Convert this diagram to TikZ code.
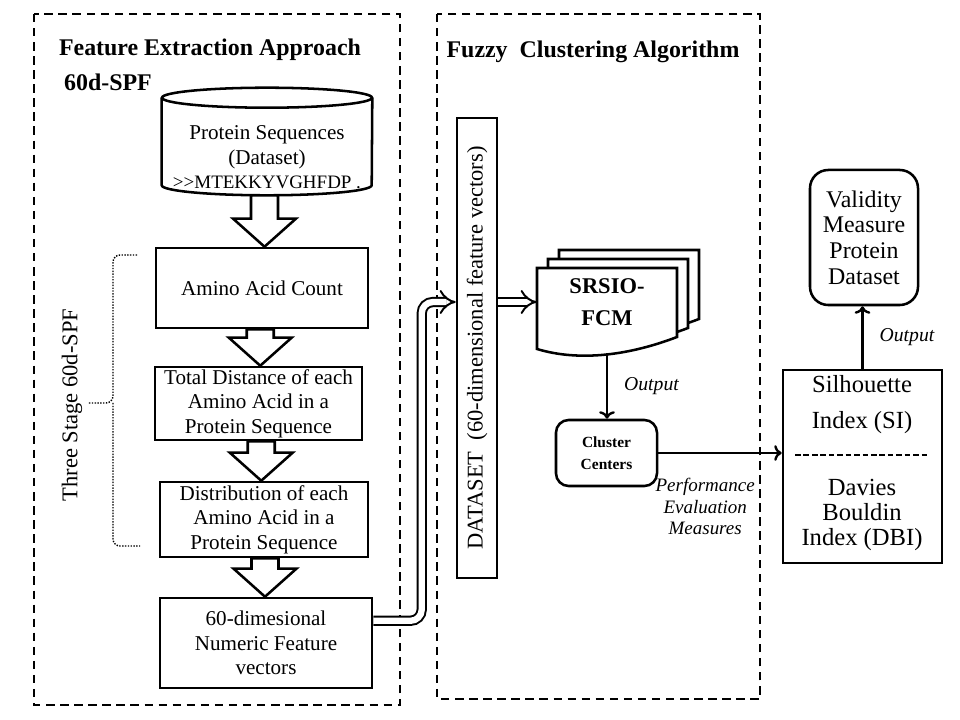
\documentclass[tikz,border=0pt]{standalone}
\usepackage{fontspec}
\setmainfont{Liberation Serif}
\usetikzlibrary{arrows.meta,calc,positioning}
\newcommand{\pxu}{0.7113pt}

\begin{document}
\begin{tikzpicture}[x=0.025cm,y=-0.025cm,
    box/.style={draw,line width=1.8pt,align=center,inner sep=1pt,font=\fontsize{15}{17.5}\selectfont},
    rbox/.style={box,rounded corners=9pt},
    zone/.style={line width=1pt,dash pattern=on 6pt off 4pt},
    head/.style={font=\fontsize{17}{20}\selectfont\bfseries},
    fat/.style={draw,fill=white,line width=1.8pt},
    arr/.style={->,line width=1.7pt},
    dbl/.style={double,double distance=4.5pt,line width=1.4pt,-{Implies}},
    lbl/.style={font=\fontsize{14}{16}\selectfont\itshape}]
  \useasboundingbox (0,0) rectangle (960,720);

  % the two dashed frames
  \draw[zone] (34,14) rectangle (400,705);
  \draw[zone] (437,14) rectangle (760,699);
  \node[head] (t1) at (210,50) {Feature Extraction Approach};
  \node[head] (t2) at (108,82) {60d-SPF};
  \node[head] (t3) at (593,52) {Fuzzy\ \ Clustering Algorithm};

  % protein sequences (cylinder)
  \node[minimum width=210*\pxu,minimum height=107*\pxu] (1) at (267,141.5) {};
  \draw[line width=1.8pt] ($(1.north west)+(0,10)$) -- ($(1.south west)+(0,-10)$)
    arc[start angle=180,end angle=0,x radius=105,y radius=10] -- ($(1.north east)+(0,10)$);
  \draw[line width=1.8pt] ($(1.north)+(0,10)$) ellipse[x radius=105,y radius=10];
  \node[align=center,font=\fontsize{15}{17.5}\selectfont] (1t) at ($(1.center)+(0,16)$)
    {Protein Sequences\\(Dataset)\\{\fontsize{13.5}{17.5}\selectfont >\kern0pt>MTEKKYVGHFDP .}};

  % three stage 60d-SPF
  \node[box,minimum width=212*\pxu,minimum height=80*\pxu] (2) at (262,288) {Amino Acid Count};
  \node[box,minimum width=207*\pxu,minimum height=73*\pxu] (3) at (258.5,403.5)
    {Total Distance of each\\Amino Acid in a\\Protein Sequence};
  \node[box,minimum width=208*\pxu,minimum height=75*\pxu] (4) at (264,519.5)
    {Distribution of each\\Amino Acid in a\\Protein Sequence};
  \node[box,minimum width=212*\pxu,minimum height=90*\pxu] (5) at (266,643)
    {60-dimesional\\Numeric Feature\\vectors};

  \foreach \a/\b in {1/2,2/3,3/4,4/5}
    \draw[fat] let \p1=(\a.south), \p2=(\b.north), \n1={(\x1+\x2)/2} in
      ({\n1-9.6pt},\y1) -- ({\n1-9.6pt},{\y2+20pt}) -- ({\n1-22.4pt},{\y2+20pt}) -- (\n1,\y2)
      -- ({\n1+22.4pt},{\y2+20pt}) -- ({\n1+9.6pt},{\y2+20pt}) -- ({\n1+9.6pt},\y1) -- cycle;

  \node[rotate=90,font=\fontsize{16}{19}\selectfont] (st) at (72,405) {Three Stage 60d-SPF};
  \draw[line width=1pt,dash pattern=on 1pt off 1pt,rounded corners=5pt]
    (137,255) -| (113,403) -- (88,403);
  \draw[line width=1pt,dash pattern=on 1pt off 1pt,rounded corners=5pt]
    (113,403) |- (140,546);

  % fuzzy clustering
  \node[box,rotate=90,minimum width=460*\pxu,minimum height=40*\pxu,
    font=\fontsize{16}{19}\selectfont] (6) at (477,348) {DATASET\ \ (60-dimensional feature vectors)};

  \foreach \s in {2,1,0}
    \draw[line width=1.8pt,fill=white,shift={({11*\s},{-9*\s})}]
      (537,268) -- (677,268) -- (677,337) .. controls (630,355) and (580,362) .. (537,349) -- cycle;
  \node[align=center,minimum width=140*\pxu,minimum height=102*\pxu,
    font=\fontsize{16}{23}\selectfont\bfseries] (7) at (607,302) {SRSIO-\\FCM};

  \node[rbox,minimum width=101*\pxu,minimum height=66*\pxu,
    font=\fontsize{11}{16}\selectfont\bfseries] (8) at (606.5,453) {Cluster\\Centers};

  \node[box,minimum width=159*\pxu,minimum height=193*\pxu] (9) at (862.5,466.5) {};
  \node[align=center,font=\fontsize{17.5}{25.5}\selectfont] (9a) at (862,405) {Silhouette\\Index (SI)};
  \draw[line width=1pt,dash pattern=on 4pt off 2pt] (795,455) -- (928,455);
  \node[align=center,font=\fontsize{17.5}{17.8}\selectfont] (9b) at (862,515)
    {Davies\\Bouldin\\Index (DBI)};

  \node[rbox,rounded corners=13pt,minimum width=108*\pxu,minimum height=135*\pxu,
    font=\fontsize{17}{18.3}\selectfont] (10) at (864,237.5) {Validity\\Measure\\Protein\\Dataset};

  % connectors
  \draw[dbl,rounded corners=8pt] ($(5.north east)!0.26!(5.south east)$)
    -| ($(6.north |- 7.west)+(-34,0)$) -- (6.north |- 7.west);
  \draw[dbl] (6.south |- 7.west) -- (7.west);
  \draw[arr] (7.south) -- node[right=8pt,lbl] {Output} (7.south |- 8.north);
  \draw[arr] (8.east) -- node[below=14pt,pos=0.38,lbl,align=center,font=\fontsize{13.5}{15.3}\selectfont\itshape]
    {Performance\\Evaluation\\Measures} (8.east -| 9.west);
  \draw[arr] (9.north) -- node[right=8pt,lbl] {Output} (9.north |- 10.south);
\end{tikzpicture}
\end{document}
